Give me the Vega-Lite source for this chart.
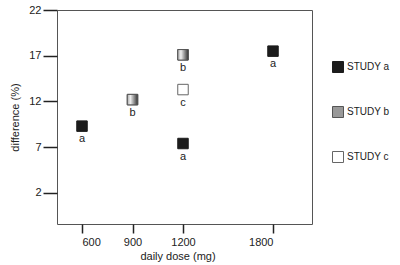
{
  "$schema": "https://vega.github.io/schema/vega-lite/v6.json",
  "width": 255,
  "height": 214,
  "autosize": "none",
  "padding": {"left": 57, "top": 10, "right": 88, "bottom": 41},
  "background": "white",
  "config": {
    "view": {"stroke": "#555", "strokeWidth": 1},
    "font": "Liberation Sans",
    "axis": {"grid": false, "domain": false, "tickColor": "#222", "labelColor": "#222", "titleColor": "#222", "labelFontSize": 11, "titleFontSize": 11, "titleFontWeight": "normal", "tickWidth": 1.5}
  },
  "data": {"values": [
    {"dose": 600, "diff": 9.3, "study": "STUDY a", "label": "a"},
    {"dose": 1200, "diff": 7.4, "study": "STUDY a", "label": "a"},
    {"dose": 1800, "diff": 17.5, "study": "STUDY a", "label": "a"},
    {"dose": 900, "diff": 12.2, "study": "STUDY b", "label": "b"},
    {"dose": 1200, "diff": 17.1, "study": "STUDY b", "label": "b"},
    {"dose": 1200, "diff": 13.3, "study": "STUDY c", "label": "c"}
  ]},
  "encoding": {
    "x": {"field": "dose", "type": "quantitative", "scale": {"domain": [600, 1200, 1800], "range": [25, 126, 216]}, "axis": {"values": [600, 900, 1200, 1800], "format": "d", "tickSize": 9, "labelPadding": 3, "title": "daily dose (mg)", "titlePadding": 3}},
    "y": {"field": "diff", "type": "quantitative", "scale": {"domain": [-1.4, 22], "nice": false, "zero": false}, "axis": {"values": [2, 7, 12, 17, 22], "tickSize": 14, "labelPadding": 2, "title": "difference (%)", "titlePadding": 8}}
  },
  "layer": [
    {
      "mark": {"type": "point", "shape": "square", "filled": true, "size": 110, "opacity": 1, "strokeWidth": 1},
      "encoding": {
        "fill": {"field": "study", "type": "nominal", "scale": {"domain": ["STUDY a", "STUDY b", "STUDY c"], "range": ["#1c1c1c", "#999999", "#ffffff"]},
          "legend": {"title": null, "orient": "none", "legendX": 275, "legendY": 51, "symbolType": "square", "symbolSize": 121, "labelFontSize": 10, "labelColor": "#222", "rowPadding": 29, "labelOffset": 3, "symbolStrokeColor": "#555", "symbolStrokeWidth": 1,
            "encode": {"symbols": {"update": {"fill": [
              {"test": "datum.value === 'STUDY b'", "value": {"gradient": "linear", "x1": 0, "y1": 0, "x2": 1, "y2": 0, "stops": [{"offset": 0, "color": "#aaaaaa"}, {"offset": 0.3, "color": "#eeeeee"}, {"offset": 1, "color": "#333333"}]}},
              {"test": "datum.value === 'STUDY a'", "value": "#1c1c1c"},
              {"value": "#ffffff"}
            ]}}}}},
        "stroke": {"field": "study", "type": "nominal", "scale": {"domain": ["STUDY a", "STUDY b", "STUDY c"], "range": ["#1c1c1c", "#555555", "#666666"]}, "legend": null}
      }
    },
    {
      "transform": [{"filter": "datum.study === 'STUDY b'"}],
      "mark": {"type": "point", "shape": "square", "filled": true, "size": 110, "opacity": 1, "stroke": "#555", "strokeWidth": 1,
        "fill": {"gradient": "linear", "x1": 0, "y1": 0, "x2": 1, "y2": 0, "stops": [{"offset": 0, "color": "#aaaaaa"}, {"offset": 0.3, "color": "#eeeeee"}, {"offset": 1, "color": "#333333"}]}},
      "encoding": {}
    },
    {
      "mark": {"type": "text", "dy": 13, "fontSize": 11, "color": "#222"},
      "encoding": {"text": {"field": "label"}}
    }
  ]
}
